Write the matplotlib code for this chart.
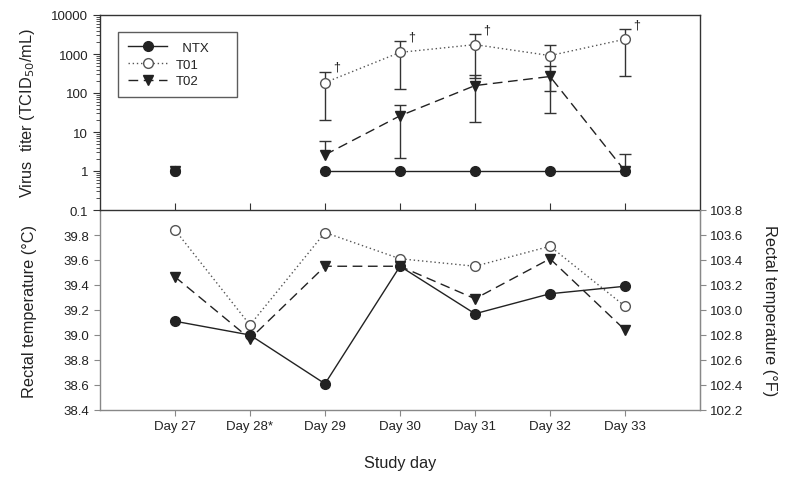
import numpy as np
import matplotlib
matplotlib.use("Agg")
import matplotlib.pyplot as plt
from matplotlib.ticker import LogLocator, FixedLocator, FuncFormatter, NullFormatter

plt.rcParams['font.family'] = ['Liberation Sans', 'DejaVu Sans']
plt.rcParams['text.color'] = '#222222'
plt.rcParams['axes.labelcolor'] = '#222222'

# data
days = ["Day 27", "Day 28*", "Day 29", "Day 30", "Day 31", "Day 32", "Day 33"]
nan = np.nan

# virus titer (TCID50/mL), mean and upper / lower ends of the error bars
ntx_titer = [1, nan, 1, 1, 1, 1, 1]
t01_titer = [1, nan, 185, 1100, 1740, 910, 2400]
t01_upper = [nan, nan, 355, 2100, 3240, 1700, 4400]
t01_lower = [nan, nan, 20.6, 126, 240, 115, 275]
t02_titer = [1, nan, 2.6, 26, 155, 265, 1]
t02_upper = [nan, nan, 5.8, 49, 290, 500, 2.8]
t02_lower = [nan, nan, nan, 2.2, 17.8, 30, nan]
# days where T01 is marked with a dagger
t01_dagger = [False, False, True, True, True, False, True]

# rectal temperature (deg C)
ntx_temp = [39.11, 39.00, 38.61, 39.55, 39.17, 39.33, 39.39]
t01_temp = [39.84, 39.08, 39.82, 39.61, 39.55, 39.71, 39.23]
t02_temp = [39.465, 38.97, 39.55, 39.55, 39.29, 39.61, 39.04]

x = np.arange(1, len(days) + 1)

fig = plt.figure(figsize=(7.9, 4.85), dpi=100)
L, R = 100 / 790, 700 / 790
ax3 = fig.add_axes([L, 1 - 411 / 485, R - L, 200 / 485])
ax1 = fig.add_axes([L, 1 - 211 / 485, R - L, 195 / 485])
ax3.patch.set_alpha(0)

dark = '#222222'
grey = '#555555'
styles = {
    'NTX': dict(color=dark, lw=1.0, ls='-', marker='o', ms=7, mfc=dark, mec=dark),
    'T01': dict(color=grey, lw=1.0, ls=(0, (1, 2)), marker='o', ms=7, mfc='white', mec=grey),
    'T02': dict(color=dark, lw=1.0, ls=(0, (7, 4)), marker='v', ms=7, mfc=dark, mec=dark),
}

def err_bars(ax, vals, upper, lower):
    vals = np.array(vals, float)
    upper = np.array(upper, float)
    lower = np.array(lower, float)
    bottom = np.where(np.isnan(lower), vals, lower)
    ok = ~np.isnan(upper)
    ax.vlines(x[ok], bottom[ok], upper[ok], colors='#333333', lw=1.0, zorder=2)
    ax.plot(x[ok], upper[ok], ls='none', marker='_', ms=8, mew=1.0, color='#333333', zorder=2)
    okl = ~np.isnan(lower)
    ax.plot(x[okl], lower[okl], ls='none', marker='_', ms=8, mew=1.0, color='#333333', zorder=2)

# ---- top panel: virus titer
err_bars(ax1, t01_titer, t01_upper, t01_lower)
err_bars(ax1, t02_titer, t02_upper, t02_lower)
h1, = ax1.plot(x, ntx_titer, label='  NTX     ', zorder=4, **styles['NTX'])
h2, = ax1.plot(x, t01_titer, label='T01', zorder=3, **styles['T01'])
h3, = ax1.plot(x, t02_titer, label='T02', zorder=3, **styles['T02'])
for xi, up, d in zip(x, t01_upper, t01_dagger):
    if d:
        ax1.annotate('\u2020', (xi, up), xytext=(6, -1), textcoords='offset points',
                     fontsize=9, ha='left', va='bottom', color=dark)

ax1.set_yscale('log')
ax1.set_ylim(0.1, 10000)
ax1.set_xlim(0, 8)
ax1.yaxis.set_major_locator(FixedLocator([0.1, 1, 10, 100, 1000, 10000]))
ax1.yaxis.set_major_formatter(FuncFormatter(lambda v, p: ('%g' % v)))
ax1.yaxis.set_minor_locator(LogLocator(base=10, subs=np.arange(2, 10)))
ax1.yaxis.set_minor_formatter(NullFormatter())
ax1.set_xticks(x)
ax1.set_xticklabels([])
ax1.tick_params(axis='x', direction='in', length=5, width=0.8, color='#333333')
ax1.tick_params(axis='y', which='major', direction='out', length=5, width=0.8,
                labelsize=9.5, colors='#333333', labelcolor=dark)
ax1.tick_params(axis='y', which='minor', direction='out', length=3, width=0.6, color='#333333')
for s in ax1.spines.values():
    s.set_color('#333333')
    s.set_linewidth(1.0)
ax1.set_ylabel('Virus  titer (TCID$_{50}$/mL)', fontsize=11.7)
ax1.yaxis.set_label_coords(-0.105, 0.5)

leg = ax1.legend(handles=[h1, h2, h3], loc='upper left', bbox_to_anchor=(0.03, 0.915),
                 fontsize=9.5, frameon=True, fancybox=False, handlelength=3.0,
                 handletextpad=0.6, labelspacing=0.35, borderpad=0.75, borderaxespad=0)
leg.get_frame().set_edgecolor('#333333')
leg.get_frame().set_linewidth(1.0)
for t in leg.get_texts():
    t.set_color(dark)

# ---- bottom panel: rectal temperature
ax3.plot(x, ntx_temp, zorder=4, **styles['NTX'])
ax3.plot(x, t01_temp, zorder=3, **styles['T01'])
ax3.plot(x, t02_temp, zorder=3, **styles['T02'])
ax3.set_xlim(0, 8)
ax3.set_ylim(38.4, 40.0)
ax3.set_yticks(np.round(np.arange(38.4, 39.81, 0.2), 1))
ax3.yaxis.set_major_formatter(FuncFormatter(lambda v, p: '%.1f' % v))
ax3.set_xticks(x)
ax3.set_xticklabels(days)
ax3.tick_params(axis='both', direction='out', length=4, width=0.8, labelsize=9.5,
                colors='#888888', labelcolor=dark)
ax3.spines['top'].set_visible(False)
for k in ['left', 'bottom', 'right']:
    ax3.spines[k].set_color('#888888')
    ax3.spines[k].set_linewidth(1.0)
ax3.set_ylabel('Rectal temperature (\u00b0C)', fontsize=11.7)
ax3.yaxis.set_label_coords(-0.105, 0.5)
ax3.set_xlabel('Study day', fontsize=11.7, labelpad=16)

ax4 = ax3.twinx()
ax4.set_ylim(102.2, 103.8)
ax4.set_yticks(np.round(np.arange(102.2, 103.81, 0.2), 1))
ax4.yaxis.set_major_formatter(FuncFormatter(lambda v, p: '%.1f' % v))
ax4.tick_params(axis='y', direction='out', length=4, width=0.8, labelsize=9.5,
                colors='#888888', labelcolor=dark)
ax4.spines['top'].set_visible(False)
ax4.spines['left'].set_visible(False)
ax4.spines['bottom'].set_visible(False)
ax4.spines['right'].set_color('#888888')
ax4.set_ylabel('Rectal temperature (\u00b0F)', fontsize=11.7, rotation=270, labelpad=16)
ax4.yaxis.set_label_coords(1.128, 0.5)

fig.savefig('out.png', dpi=100)
